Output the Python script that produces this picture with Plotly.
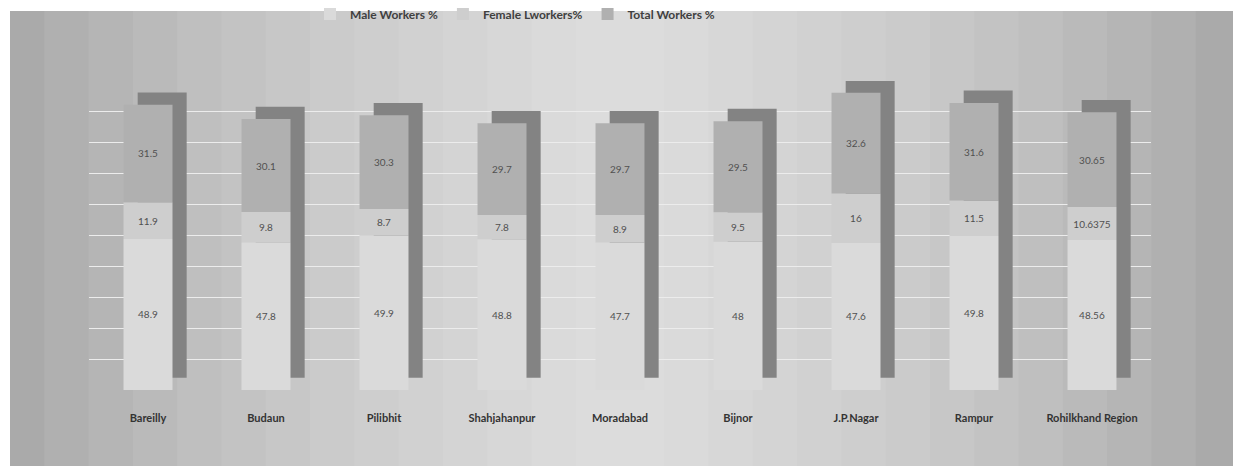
import plotly.graph_objects as go

categories = ["Bareilly", "Budaun", "Pilibhit", "Shahjahanpur", "Moradabad",
              "Bijnor", "J.P.Nagar", "Rampur", "Rohilkhand Region"]
male = [48.9, 47.8, 49.9, 48.8, 47.7, 48, 47.6, 49.8, 48.56]
female = [11.9, 9.8, 8.7, 7.8, 8.9, 9.5, 16, 11.5, 10.6375]
total = [31.5, 30.1, 30.3, 29.7, 29.7, 29.5, 32.6, 31.6, 30.65]
series_names = ["Male Workers %", "Female Lworkers%", "Total Workers %"]

W = 0.415          # bar width in category units
DX = 0.12          # depth offset (category units)
DY = 4.0           # depth offset (value units)

sums = [m + f + t for m, f, t in zip(male, female, total)]
base_f = male
base_t = [m + f for m, f in zip(male, female)]

fig = go.Figure()

# fake 3D depth (side/top faces) drawn behind the front faces
fig.add_trace(go.Bar(
    x=categories, y=sums, base=[DY] * len(categories),
    width=W, offset=-W / 2 + DX,
    marker=dict(color="#838383", line=dict(width=0)),
    showlegend=False, hoverinfo="skip",
))

front = [
    (series_names[0], male, [0] * len(categories), "#dadada"),
    (series_names[1], female, base_f, "#cecece"),
    (series_names[2], total, base_t, "#b0b0b0"),
]
for name, vals, base, col in front:
    fig.add_trace(go.Bar(
        name=name, x=categories, y=vals, base=base,
        width=W, offset=-W / 2,
        marker=dict(color=col, line=dict(width=0)),
        text=[f"{v:g}" for v in vals], textposition="inside",
        insidetextanchor="middle", constraintext="none",
        textfont=dict(family="Lato, sans-serif", size=10, color="#505050"),
    ))

# background panel (paper coords) with a soft lighter centre
PL, PR, PT, PB = 89, 82, 81, 76
DW, DH = 1233 - PL - PR, 466 - PT - PB


def px_x(p):
    return (p - PL) / DW


def px_y(p):
    return 1 - (p - PT) / DH


shapes = [dict(type="rect", xref="paper", yref="paper", layer="below",
               x0=px_x(10), x1=px_x(1233), y0=px_y(466), y1=px_y(11),
               fillcolor="#a4a4a4", line=dict(width=0))]
n = 14
for i in range(n):
    half = 620 * (1 - i / n)
    cx = 620
    shapes.append(dict(type="rect", xref="paper", yref="paper", layer="below",
                       x0=px_x(max(10, cx - half)), x1=px_x(min(1233, cx + half)),
                       y0=px_y(466), y1=px_y(11),
                       fillcolor="rgba(255,255,255,0.075)", line=dict(width=0)))

fig.update_layout(
    width=1233, height=466,
    margin=dict(l=PL, r=PR, t=PT, b=PB, autoexpand=False),
    paper_bgcolor="white", plot_bgcolor="rgba(0,0,0,0)",
    barmode="overlay",
    shapes=shapes,
    font=dict(family="Lato, sans-serif", color="#404040"),
    legend=dict(orientation="h", x=px_x(515), xanchor="center", y=px_y(14), yanchor="middle",
                font=dict(family="Lato, sans-serif", size=12, color="#404040", weight="bold"),
                bgcolor="rgba(0,0,0,0)", itemwidth=30, traceorder="normal"),
    xaxis=dict(showgrid=False, showline=False, zeroline=False, ticks="",
               ticklabelstandoff=20,
               tickfont=dict(family="Lato, sans-serif", size=11, color="#333333", weight="bold")),
    yaxis=dict(range=[0, 100], dtick=10, showticklabels=False, showgrid=True,
               gridcolor="#ececec", gridwidth=1, zeroline=False, showline=False),
)

fig.write_html("out.html", config={"displayModeBar": False},
               post_script="document.body.style.margin='0';")
